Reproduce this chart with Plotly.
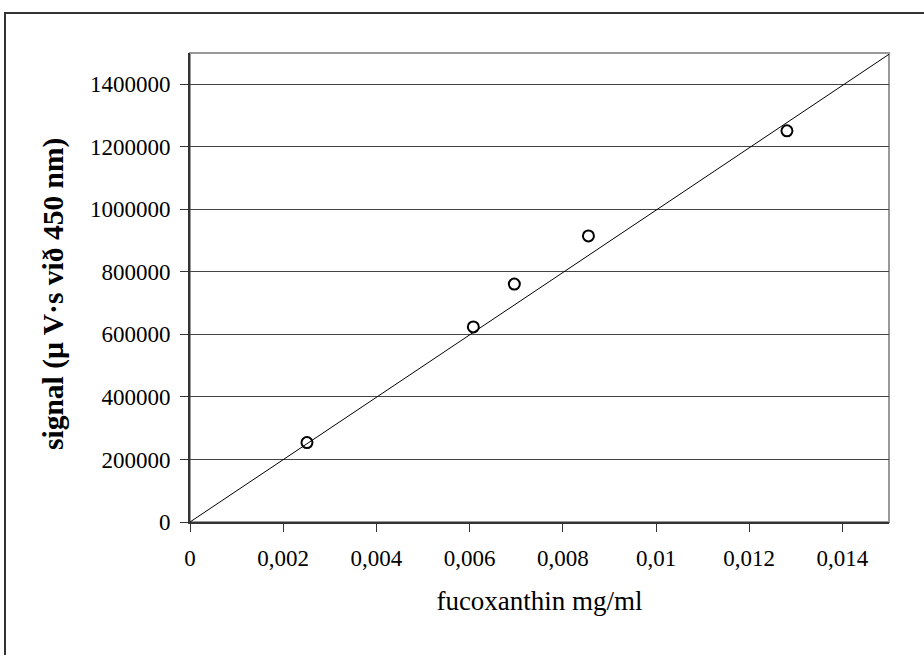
import plotly.graph_objects as go

# ---- data ----
conc = [0.00251, 0.00608, 0.00696, 0.00855, 0.01281]          # fucoxanthin mg/ml
signal = [254000, 624000, 761000, 915000, 1251000]             # µV·s at 450 nm

trend_x = [0.0, 0.015]
trend_y = [0.0, 1515000.0]

x_tickvals = [0, 0.002, 0.004, 0.006, 0.008, 0.010, 0.012, 0.014]
x_ticktext = ["0", "0,002", "0,004", "0,006", "0,008", "0,01", "0,012", "0,014"]
y_tickvals = [0, 200000, 400000, 600000, 800000, 1000000, 1200000, 1400000]
y_ticktext = ["0", "200000", "400000", "600000", "800000", "1000000", "1200000", "1400000"]

x_title = "fucoxanthin mg/ml"
y_title = "signal (µ V·s við 450 nm)"

# ---- layout geometry ----
W, H = 924, 655
ML, MR, MT, MB = 190, 35, 47, 133
plot_w = W - ML - MR
plot_h = H - MT - MB
extra = 6
dom_top = (plot_h - extra) / plot_h
YMAX = 1500000
XMAX = 0.015

FONT = "Liberation Serif, Times New Roman, serif"

fig = go.Figure()

# trendline drawn on an overlay axis pair so it can extend slightly above the plot box
fig.add_trace(go.Scatter(
    x=trend_x, y=trend_y, mode="lines",
    line=dict(color="black", width=1),
    xaxis="x2", yaxis="y2", showlegend=False, hoverinfo="skip"))

fig.add_trace(go.Scatter(
    x=conc, y=signal, mode="markers",
    marker=dict(symbol="circle-open", size=11, color="black",
                line=dict(color="black", width=2)),
    showlegend=False))

fig.update_layout(
    width=W, height=H,
    margin=dict(l=ML, r=MR, t=MT, b=MB, pad=0),
    paper_bgcolor="white", plot_bgcolor="white",
    font=dict(family=FONT, color="black", size=23),
    xaxis=dict(
        range=[0, XMAX], domain=[0, 1], anchor="y",
        tickvals=x_tickvals, ticktext=x_ticktext,
        ticks="outside", ticklen=8, tickwidth=1, tickcolor="#333",
        showline=True, linecolor="#333", linewidth=2,
        showgrid=False, zeroline=False,
        tickfont=dict(size=23, family=FONT),
        ticklabelstandoff=6,
        title=dict(text=x_title, font=dict(size=27, family=FONT), standoff=22),
    ),
    yaxis=dict(
        range=[0, YMAX], domain=[0, dom_top], anchor="x",
        tickvals=y_tickvals, ticktext=y_ticktext,
        ticks="outside", ticklen=8, tickwidth=1, tickcolor="#333",
        showline=True, linecolor="#333", linewidth=2,
        showgrid=True, gridcolor="#444", gridwidth=1,
        zeroline=False,
        tickfont=dict(size=23, family=FONT),
        ticklabelstandoff=5,
    ),
    xaxis2=dict(range=[0, XMAX], domain=[0, 1], anchor="y2", visible=False,
                overlaying="x"),
    yaxis2=dict(range=[0, YMAX / dom_top], domain=[0, 1], anchor="x2", visible=False,
                overlaying="y"),
    annotations=[
        dict(text="<b>" + y_title + "</b>", textangle=-90,
             xref="paper", yref="paper",
             x=(53 - ML) / plot_w, y=((H - MB) - 294) / plot_h,
             xanchor="center", yanchor="middle", showarrow=False,
             font=dict(size=29.5, family=FONT, color="black")),
    ],
    shapes=[
        # plot area border (grey top/right)
        dict(type="rect", xref="x domain", yref="y domain", x0=0, x1=1, y0=0, y1=1,
             line=dict(color="#999", width=2), layer="below"),
        # outer chart border
        dict(type="rect", xref="paper", yref="paper",
             x0=(5 - ML) / plot_w, x1=(W + 10 - ML) / plot_w,
             y0=-(H + 10 - (H - MB)) / plot_h, y1=((H - MB) - 13) / plot_h,
             line=dict(color="#333", width=2), fillcolor="rgba(0,0,0,0)"),
    ],
)

fig.write_html("out.html")
